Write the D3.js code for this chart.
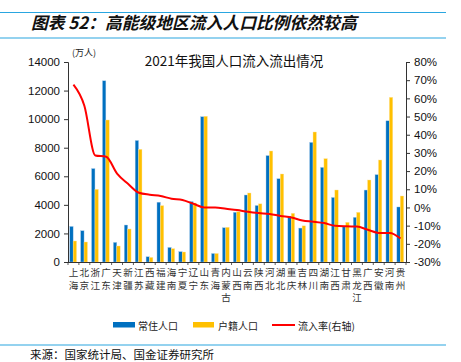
<!DOCTYPE html>
<html><head><meta charset="utf-8">
<script src="https://cdn.jsdelivr.net/npm/d3@7"></script>
<style>
html,body{margin:0;padding:0;background:#fff;}
svg{display:block;}
</style></head>
<body>
<script>
const categories = ["上海","北京","浙江","广东","天津","新疆","江苏","西藏","福建","海南","宁夏","辽宁","山东","青海","内蒙古","山西","云南","陕西","河北","湖北","重庆","吉林","四川","湖南","江西","甘肃","黑龙江","广西","安徽","河南","贵州"];
const resident = [2489,2189,6540,12684,1373,2589,8505,366,4187,1020,725,4229,10170,594,2400,3480,4690,3954,7448,5830,3212,2375,8372,6622,4517,2490,3125,5037,6113,9883,3852];
const hukou = [1470,1400,5085,9940,1120,2310,7887,320,3943,933,700,4130,10200,595,2430,3520,4830,4070,7770,6160,3407,2530,9100,7233,5040,2777,3477,5740,7140,11527,4620];
const inflowRate = [67.5,55.9,28.6,27.9,18.6,13,8.1,7,6.3,4.8,4.1,2.0,0,0,-0.7,-1.4,-2.4,-3.1,-3.6,-4.7,-5.5,-7.2,-7.8,-8.6,-10.1,-10.4,-10.5,-12.3,-14,-14,-17.1];
const leftTicks = [0,2000,4000,6000,8000,10000,12000,14000];
const rightTicks = [-30,-20,-10,0,10,20,30,40,50,60,70,80];

const W = 461, H = 362;
const L = 68, R = 406, T = 62, B = 262;
const BLUE = "#0070C0", YELLOW = "#FFC000", RED = "#FF0000", RULE = "#2AA6E0";
const numFont = "'Liberation Sans Narrow','Liberation Sans',Arial,sans-serif";
const cjkFont = "'Noto Sans CJK SC','Noto Sans',sans-serif";

const svg = d3.select("body").append("svg").attr("width", W).attr("height", H);
svg.append("rect").attr("width", W).attr("height", H).attr("fill", "#fff");

// header rules and title
svg.append("line").attr("x1",0).attr("x2",446).attr("y1",12.5).attr("y2",12.5).attr("stroke",RULE).attr("stroke-width",1.2);
svg.append("line").attr("x1",0).attr("x2",446).attr("y1",38).attr("y2",38).attr("stroke",RULE).attr("stroke-width",1.2);
svg.append("text").attr("x",31).attr("y",29).attr("font-family",cjkFont).attr("font-size",16.8)
  .attr("font-weight","bold").attr("font-style","italic").attr("fill","#111")
  .text("图表 52：高能级地区流入人口比例依然较高");

// chart title
svg.append("text").attr("x",234).attr("y",66).attr("text-anchor","middle")
  .attr("font-family",cjkFont).attr("font-size",13.5).attr("fill","#111")
  .text("2021年我国人口流入流出情况");
svg.append("text").attr("x",72).attr("y",56).attr("font-family",cjkFont).attr("font-size",9).attr("fill","#222").text("(万人)");

const x = d3.scaleBand().domain(categories).range([L, R]).padding(0);
const yL = d3.scaleLinear().domain([0,14000]).range([B, T]);
const yR = d3.scaleLinear().domain([-30,80]).range([B, T]);
const bw = 3.4;

// bars
const g = svg.append("g");
categories.forEach((c,i)=>{
  const cx = x(c) + x.bandwidth()/2 - 0.3;
  g.append("rect").attr("x", cx - bw).attr("y", yL(resident[i])).attr("width", bw).attr("height", B - yL(resident[i]))
    .attr("fill", BLUE).attr("stroke","#A9CBEA").attr("stroke-width",0.4);
  g.append("rect").attr("x", cx).attr("y", yL(hukou[i])).attr("width", bw).attr("height", B - yL(hukou[i]))
    .attr("fill", YELLOW).attr("stroke","#FFE39A").attr("stroke-width",0.4);
});

// left axis
const axL = svg.append("g").attr("transform",`translate(${L},0)`)
  .call(d3.axisLeft(yL).tickValues(leftTicks).tickSize(4).tickPadding(4).tickFormat(d3.format("d")));
axL.selectAll("text").attr("font-family",numFont).attr("font-size",11.5).attr("fill","#111");
axL.selectAll("line,path").attr("stroke","#333");

// right axis
const axR = svg.append("g").attr("transform",`translate(${R},0)`)
  .call(d3.axisRight(yR).tickValues(rightTicks).tickSize(4).tickPadding(4).tickFormat(d=>d+"%"));
axR.selectAll("text").attr("font-family",numFont).attr("font-size",11.5).attr("fill","#111");
axR.selectAll("line,path").attr("stroke","#333");

// x axis
svg.append("line").attr("x1",L).attr("x2",R).attr("y1",B+0.5).attr("y2",B+0.5).attr("stroke","#333");
categories.forEach((c,i)=>{
  svg.append("line").attr("x1",x(c)).attr("x2",x(c)).attr("y1",B).attr("y2",B+3).attr("stroke","#333").attr("stroke-width",0.8);
  const cx = x(c) + x.bandwidth()/2;
  const t = svg.append("text").attr("text-anchor","middle")
    .attr("font-family",cjkFont).attr("font-size",9.6).attr("fill","#333");
  Array.from(c).forEach((ch,k)=>{
    t.append("tspan").attr("x",cx).attr("y",276 + k*12.6).text(ch);
  });
});
svg.append("line").attr("x1",R).attr("x2",R).attr("y1",B).attr("y2",B+3).attr("stroke","#333").attr("stroke-width",0.8);

// red line
const line = d3.line().x((d,i)=>x(categories[i]) + x.bandwidth()/2).y(d=>yR(d)).curve(d3.curveMonotoneX);
svg.append("path").datum(inflowRate).attr("d",line).attr("fill","none").attr("stroke",RED).attr("stroke-width",2);

// legend
const lg = svg.append("g");
lg.append("rect").attr("x",113).attr("y",322).attr("width",22).attr("height",5.5).attr("fill",BLUE);
lg.append("text").attr("x",138).attr("y",325).attr("dominant-baseline","central").attr("font-family",cjkFont).attr("font-size",10).attr("fill","#222").text("常住人口");
lg.append("rect").attr("x",193).attr("y",322).attr("width",21).attr("height",5.5).attr("fill",YELLOW);
lg.append("text").attr("x",218).attr("y",325).attr("dominant-baseline","central").attr("font-family",cjkFont).attr("font-size",10).attr("fill","#222").text("户籍人口");
lg.append("line").attr("x1",272).attr("x2",295).attr("y1",325).attr("y2",325).attr("stroke",RED).attr("stroke-width",2);
lg.append("text").attr("x",298).attr("y",325).attr("dominant-baseline","central").attr("font-family",cjkFont).attr("font-size",10).attr("fill","#222").text("流入率(右轴)");

// footer
svg.append("line").attr("x1",0).attr("x2",446).attr("y1",345).attr("y2",345).attr("stroke",RULE).attr("stroke-width",1.2);
svg.append("text").attr("x",30).attr("y",354).attr("dominant-baseline","central").attr("font-family",cjkFont).attr("font-size",11.5).attr("fill","#111").text("来源：国家统计局、国金证券研究所");
</script>
</body></html>
